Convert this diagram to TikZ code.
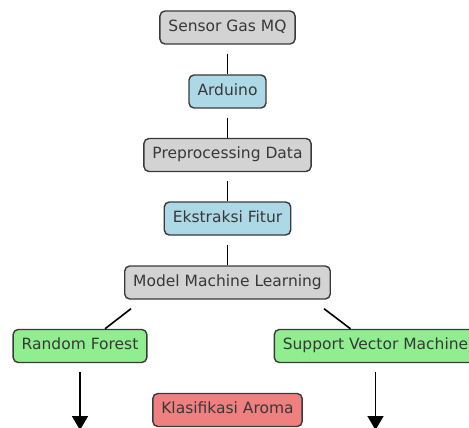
\documentclass[tikz,border=0pt]{standalone}
\usepackage{fontspec}
\setmainfont{DejaVu Sans}
\usetikzlibrary{arrows.meta,positioning}
\definecolor{boxgray}{HTML}{D3D3D3}
\definecolor{boxblue}{HTML}{ADD8E6}
\definecolor{boxgreen}{HTML}{90EE90}
\definecolor{boxred}{HTML}{F08080}
\definecolor{edgegray}{HTML}{3A3A3A}

\begin{document}
\begin{tikzpicture}[x=1pt, y=-1pt,
		block/.style={draw=edgegray, line width=1.4pt, rounded corners=5pt, text=black!78,
			font=\fontsize{15.5}{18}\selectfont, inner xsep=8.5pt, inner ysep=0pt,
			minimum height=33pt, text height=0.86em, text depth=0.13em},
		link/.style={line width=1.6pt, black},
		arrowlink/.style={link, -{Triangle[width=16pt,length=14pt]}}]
		\useasboundingbox (0,0) rectangle (469,428);
		% main chain
		\node[block, fill=boxgray] (sensor) at (227.5,27.5) {Sensor Gas MQ};
		\node[block, fill=boxblue] (arduino) at (227.5,91.5) {Arduino};
		\node[block, fill=boxgray] (prepro) at (227.5,155) {Preprocessing Data};
		\node[block, fill=boxblue] (fitur) at (227.5,218.5) {Ekstraksi Fitur};
		\node[block, fill=boxgray] (model) at (227.5,282.5) {Model Machine Learning};
		% classifiers
		\node[block, fill=boxgreen] (rf) at (80,346) {Random Forest};
		\node[block, fill=boxgreen] (svm) at (375.5,346) {Support Vector Machine};
		\node[block, fill=boxred] (aroma) at (227.5,410) {Klasifikasi Aroma};
		\coordinate (rfend) at (80,430);
		\coordinate (svmend) at (375.5,430);
		\begin{scope}[on background layer/.try]
			\draw[link] ([yshift=-9pt]sensor.south) -- (arduino.north);
			\draw[link] ([yshift=-9pt]arduino.south) -- (prepro.north);
			\draw[link] ([yshift=-9pt]prepro.south) -- (fitur.north);
			\draw[link] ([yshift=-9pt]fitur.south) -- (model.north);
			\draw[link] ([xshift=7pt,yshift=-9pt]model.south west) -- ([xshift=25pt]rf.north);
			\draw[link] ([xshift=-7pt,yshift=-9pt]model.south east) -- ([xshift=-25pt]svm.north);
			\draw[arrowlink] ([yshift=-9pt]rf.south) -- (rfend);
			\draw[arrowlink] ([yshift=-9pt]svm.south) -- (svmend);
		\end{scope}
	\end{tikzpicture}
\end{document}
